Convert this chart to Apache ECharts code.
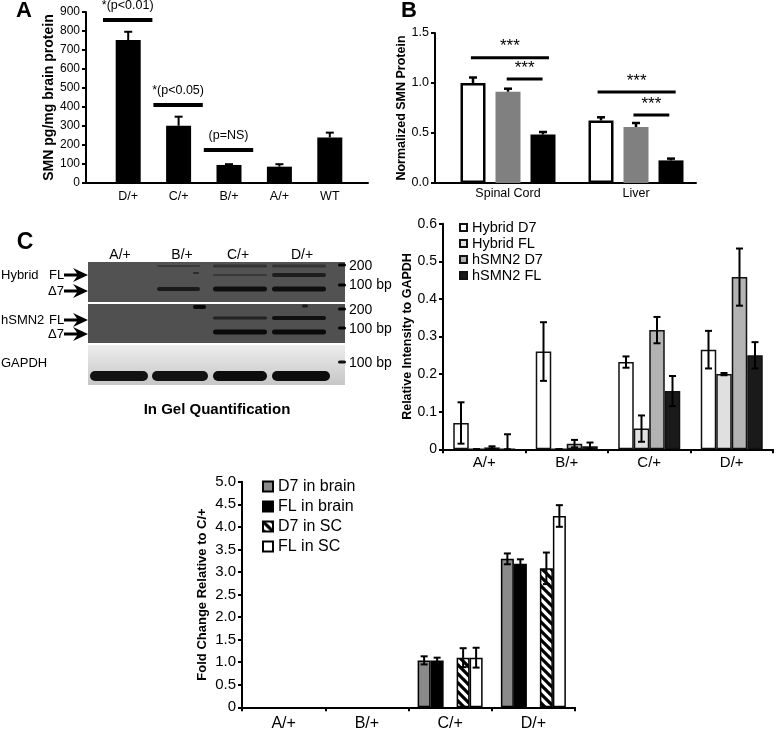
<!DOCTYPE html>
<html>
<head>
<meta charset="utf-8">
<script src="https://cdn.jsdelivr.net/npm/echarts@6/dist/echarts.min.js"></script>
<style>html,body{margin:0;padding:0;background:#fff}#c{width:777px;height:731px}</style>
</head>
<body>
<div id="c"></div>
<script>
// ---------- Panel A ----------
const catsA = ['D/+', 'C/+', 'B/+', 'A/+', 'WT'];
const smnA = [752, 301, 95, 86, 240];
const smnAErr = [44, 48, 4, 13, 25];
const sigALabels = ['*(p<0.01)', '*(p<0.05)', '(p=NS)'];
const sigALevel = [858, 411, 174];

// ---------- Panel B ----------
const catsB = ['Spinal Cord', 'Liver'];
const bWhite = [1.00, 0.625];
const bWhiteErr = [0.055, 0.032];
const bGray = [0.913, 0.56];
const bGrayErr = [0.03, 0.04];
const bBlack = [0.485, 0.226];
const bBlackErr = [0.025, 0.018];
const sigBLabels = ['***', '***', '***', '***'];
const sigBLevel = [1.253, 1.04, 0.91, 0.68];
const sigBFrom = [-0.29, -0.01, 0.70, 0.98];
const sigBTo = [0.32, 0.27, 1.31, 1.26];

// ---------- Panel C (in-gel quantification) ----------
const catsC = ['A/+', 'B/+', 'C/+', 'D/+'];
const hybD7 = [0.07, 0.26, 0.232, 0.265];
const hybD7Err = [0.055, 0.078, 0.015, 0.05];
const hybFL = [0, 0, 0.055, 0.2];
const hybFLErr = [0, 0, 0.035, 0.003];
const smnD7 = [0.005, 0.015, 0.317, 0.458];
const smnD7Err = [0.003, 0.01, 0.035, 0.076];
const smnFL = [0, 0.008, 0.155, 0.25];
const smnFLErr = [0.04, 0.01, 0.04, 0.035];

// ---------- Panel C bottom (fold change) ----------
const catsD = ['A/+', 'B/+', 'C/+', 'D/+'];
const d7Brain = [null, null, 1.04, 3.29];
const d7BrainErr = [null, null, 0.09, 0.12];
const flBrain = [null, null, 1.04, 3.18];
const flBrainErr = [null, null, 0.06, 0.1];
const d7SC = [null, null, 1.10, 3.08];
const d7SCErr = [null, null, 0.21, 0.35];
const flSC = [null, null, 1.10, 4.24];
const flSCErr = [null, null, 0.22, 0.24];

// ---------- Gel labels ----------
const gelLanes = ['A/+', 'B/+', 'C/+', 'D/+'];

const FONT = "'Liberation Sans', Arial, Helvetica, sans-serif";

function hatch() {
  const c = document.createElement('canvas');
  c.width = c.height = 9;
  const g = c.getContext('2d');
  g.fillStyle = '#fff'; g.fillRect(0, 0, 9, 9);
  g.strokeStyle = '#000'; g.lineWidth = 3.2; g.beginPath();
  for (const k of [-9, 0, 9]) { g.moveTo(-1, k - 1); g.lineTo(10, k + 10); }
  g.stroke();
  return c;
}

function errBars(xi, yi, vals, errs, offset, opts) {
  const data = [];
  vals.forEach((v, i) => { if (v != null && errs[i] != null) data.push([i, v, errs[i]]); });
  return {
    type: 'custom', xAxisIndex: xi, yAxisIndex: yi, z: 5, silent: true, data: data,
    encode: { x: 0, y: 1 },
    renderItem: function (params, api) {
      const c = api.value(0), v = api.value(1), e = api.value(2);
      const hi = v + e, lo = opts.upper ? v : Math.max(0, v - e);
      const pt = api.coord([c, hi]), pb = api.coord([c, lo]);
      const x = pt[0] + offset, h = opts.cap / 2;
      const style = { stroke: '#000', lineWidth: opts.lw };
      const ch = [
        { type: 'line', shape: { x1: x, y1: pb[1], x2: x, y2: pt[1] }, style: style },
        { type: 'line', shape: { x1: x - h, y1: pt[1], x2: x + h, y2: pt[1] }, style: style }
      ];
      if (!opts.upper) ch.push({ type: 'line', shape: { x1: x - h, y1: pb[1], x2: x + h, y2: pb[1] }, style: style });
      return { type: 'group', children: ch };
    }
  };
}

function sigLine(xi, yi, x0, x1, y, w) {
  return { type: 'line', xAxisIndex: xi, yAxisIndex: yi, data: [[x0, y], [x1, y]], symbol: 'none',
    lineStyle: { color: '#000', width: w }, silent: true, z: 4 };
}
function sigText(xi, yi, items, fs, dist) {
  return { type: 'scatter', xAxisIndex: xi, yAxisIndex: yi, data: items, symbolSize: 1,
    itemStyle: { color: 'rgba(0,0,0,0)' }, silent: true, z: 6,
    label: { show: true, position: 'top', distance: dist, formatter: '{b}', fontSize: fs, color: '#000',
      opacity: 1, textBorderWidth: 0, fontFamily: FONT } };
}

const axLine = { show: true, onZero: false, lineStyle: { color: '#000', width: 2 } };
const axTick = { show: true, length: 4, lineStyle: { color: '#000', width: 2 } };
const noSplit = { show: false };

function valY(grid, min, max, interval, fs, name, gap, nfs, fmt) {
  return { gridIndex: grid, type: 'value', min: min, max: max, interval: interval,
    axisLine: axLine, axisTick: axTick, splitLine: noSplit,
    axisLabel: { color: '#000', fontSize: fs, margin: 6, fontFamily: FONT, formatter: fmt },
    name: name, nameLocation: 'middle', nameGap: gap, nameRotate: 90,
    nameTextStyle: { color: '#000', fontWeight: 'bold', fontSize: nfs, fontFamily: FONT } };
}
function hidY(grid, min, max) { return { gridIndex: grid, type: 'value', min: min, max: max, show: false, splitLine: noSplit }; }
function lineOnlyX(grid) {
  return { gridIndex: grid, type: 'value', min: 0, max: 1, axisLine: axLine, axisTick: { show: false },
    axisLabel: { show: false }, splitLine: noSplit };
}

const fmt1 = v => v === 0 ? '0' : v.toFixed(1);

// ---------- Gel drawing (photograph stand-in) ----------
const gel = [];
gel.push({ type: 'rect', shape: { x: 88, y: 262, width: 257, height: 40 }, style: { fill: '#525252' } });
gel.push({ type: 'rect', shape: { x: 88, y: 304, width: 257, height: 39 }, style: { fill: '#505050' } });
gel.push({ type: 'rect', shape: { x: 88, y: 345, width: 257, height: 40 },
  style: { fill: new echarts.graphic.LinearGradient(0, 0, 0, 1, [{ offset: 0, color: '#ededed' }, { offset: 1, color: '#c6c6c6' }]) } });
const bands = [
  [157, 200, 266, 2, '#3a3a3a'], [157, 200, 289, 4, '#1a1a1a'], [193, 199, 273, 2, '#2a2a2a'],
  [213, 267, 266, 3, '#343434'], [213, 267, 275, 2, '#383838'], [213, 267, 289, 5, '#0f0f0f'],
  [272, 326, 266, 3, '#343434'], [272, 326, 275, 4, '#1e1e1e'], [272, 326, 289, 5, '#0f0f0f'],
  [338, 346, 265, 3, '#000'], [338, 346, 285, 3, '#000'],
  [193, 206, 307, 4, '#080808'], [302, 308, 306, 3, '#1a1a1a'],
  [213, 267, 318, 3, '#232323'], [213, 267, 332, 5, '#090909'],
  [272, 326, 318, 4, '#101010'], [272, 326, 332, 5, '#090909'],
  [338, 346, 309, 3, '#000'], [338, 346, 328, 3, '#000'],
  [90, 148, 376, 10, '#121212'], [152, 208, 376, 10, '#121212'], [213, 267, 376, 10, '#0c0c0c'], [272, 330, 376, 10, '#0c0c0c'],
  [338, 346, 362, 3, '#111']
];
bands.forEach(b => gel.push({ type: 'rect', shape: { x: b[0], y: b[2] - b[3] / 2, width: b[1] - b[0], height: b[3], r: b[3] / 2 }, style: { fill: b[4] } }));

function txt(t, x, y, fs, align, bold) {
  return { type: 'text', x: x, y: y, style: { text: t, fill: '#000', font: (bold ? 'bold ' : '') + fs + 'px ' + FONT,
    textAlign: align, textVerticalAlign: 'middle', align: align, verticalAlign: 'middle' } };
}
const laneX = [120, 182, 238, 302];
gelLanes.forEach((t, i) => gel.push(txt(t, laneX[i], 255, 14, 'center')));
[['200', 266], ['100 bp', 285], ['200', 310], ['100 bp', 329], ['100 bp', 363]].forEach(a => gel.push(txt(a[0], 349, a[1], 14, 'left')));
[['Hybrid', 1, 275], ['FL', 49, 275], ['\u03947', 48, 291], ['hSMN2', 1, 320], ['FL', 49, 320], ['\u03947', 48, 334], ['GAPDH', 1, 363]]
  .forEach(a => gel.push(txt(a[0], a[1], a[2], 13, 'left')));
[275, 291, 320, 334].forEach(y => gel.push({ type: 'polygon',
  shape: { points: [[64, y - 1.6], [77, y - 1.6], [73, y - 7], [88, y], [73, y + 7], [77, y + 1.6], [64, y + 1.6]] },
  style: { fill: '#000' } }));
gel.push(txt('In Gel Quantification', 217, 410, 15, 'center', true));
gel.push(txt('A', 24, 11, 22, 'center', true));
gel.push(txt('B', 409, 11, 22, 'center', true));
gel.push(txt('C', 25, 243, 23, 'center', true));

const hatchPattern = { image: hatch(), repeat: 'repeat' };

const option = {
  animation: false,
  backgroundColor: '#fff',
  textStyle: { fontFamily: FONT, color: '#000' },
  grid: [
    { left: 86, top: 12, width: 282, height: 171, containLabel: false, outerBoundsMode: 'none' },
    { left: 103, top: 12, width: 252, height: 171, containLabel: false, outerBoundsMode: 'none' },
    { left: 435, top: 33, width: 261, height: 150, containLabel: false, outerBoundsMode: 'none' },
    { left: 444, top: 33, width: 256, height: 150, containLabel: false, outerBoundsMode: 'none' },
    { left: 443, top: 223.7, width: 330, height: 225.6, containLabel: false, outerBoundsMode: 'none' },
    { left: 242, top: 481.7, width: 333, height: 225.6, containLabel: false, outerBoundsMode: 'none' }
  ],
  xAxis: [
    lineOnlyX(0),
    { gridIndex: 1, type: 'category', data: catsA, axisLine: { show: false }, axisTick: { show: false },
      axisLabel: { color: '#000', fontSize: 12.5, margin: 7, fontFamily: FONT } },
    { gridIndex: 1, type: 'value', min: -0.5, max: 4.5, show: false, splitLine: noSplit },
    lineOnlyX(2),
    { gridIndex: 3, type: 'category', data: catsB, axisLine: { show: false }, axisTick: { show: false },
      axisLabel: { color: '#000', fontSize: 12.5, margin: 4, fontFamily: FONT } },
    { gridIndex: 3, type: 'value', min: -0.5, max: 1.5, show: false, splitLine: noSplit },
    { gridIndex: 4, type: 'category', data: catsC, axisLine: axLine, axisTick: axTick,
      axisLabel: { color: '#000', fontSize: 15, margin: 6, fontFamily: FONT } },
    { gridIndex: 5, type: 'category', data: catsD, axisLine: axLine, axisTick: axTick,
      axisLabel: { color: '#000', fontSize: 16, margin: 8, fontFamily: FONT } }
  ],
  yAxis: [
    valY(0, 0, 900, 100, 12, 'SMN pg/mg brain protein', 29, 14),
    hidY(1, 0, 900),
    valY(2, 0, 1.5, 0.5, 12.5, 'Normalized SMN Protein', 19, 12.5, v => v.toFixed(1)),
    hidY(3, 0, 1.5),
    valY(4, 0, 0.6, 0.1, 14, 'Relative Intensity to GAPDH', 27, 12.5, fmt1),
    valY(5, 0, 5, 0.5, 15, 'Fold Change Relative to C/+', 33, 13, fmt1)
  ],
  legend: [
    { data: ['Hybrid D7', 'Hybrid FL', 'hSMN2 D7', 'hSMN2 FL'], orient: 'vertical', left: 459, top: 220,
      itemWidth: 7, itemHeight: 7, itemGap: 1, padding: 0, icon: 'rect', selectedMode: false,
      textStyle: { color: '#000', fontSize: 14.5, lineHeight: 15, fontFamily: FONT } },
    { data: ['D7 in brain', 'FL in brain', 'D7 in SC', 'FL in SC'], orient: 'vertical', left: 262, top: 478,
      itemWidth: 10, itemHeight: 10, itemGap: 3, padding: 0, icon: 'rect', selectedMode: false,
      textStyle: { color: '#000', fontSize: 16, lineHeight: 17, fontFamily: FONT } }
  ],
  series: [
    // Panel A
    { type: 'bar', name: 'SMN level', xAxisIndex: 1, yAxisIndex: 1, data: smnA, barWidth: 25, itemStyle: { color: '#000' } },
    errBars(1, 1, smnA, smnAErr, 0, { upper: true, cap: 8, lw: 2 }),
    ...sigALevel.map((y, i) => sigLine(2, 1, i - 0.5, i + 0.48, y, 4)),
    sigText(2, 1, sigALabels.map((t, i) => ({ name: t, value: [i - 0.01, sigALevel[i]] })), 12.5, 7),
    // Panel B
    { type: 'bar', name: 'B white', xAxisIndex: 4, yAxisIndex: 3, data: bWhite, barWidth: 25, barGap: '40%',
      itemStyle: { color: '#fff', borderColor: '#000', borderWidth: 2.5 } },
    { type: 'bar', name: 'B gray', xAxisIndex: 4, yAxisIndex: 3, data: bGray, barWidth: 25, barGap: '40%',
      itemStyle: { color: '#808080' } },
    { type: 'bar', name: 'B black', xAxisIndex: 4, yAxisIndex: 3, data: bBlack, barWidth: 25, barGap: '40%',
      itemStyle: { color: '#000' } },
    errBars(4, 3, bWhite, bWhiteErr, -35, { upper: true, cap: 8, lw: 2.5 }),
    errBars(4, 3, bGray, bGrayErr, 0, { upper: true, cap: 8, lw: 2.5 }),
    errBars(4, 3, bBlack, bBlackErr, 35, { upper: true, cap: 8, lw: 2.5 }),
    ...sigBLevel.map((y, i) => sigLine(5, 3, sigBFrom[i], sigBTo[i], y, 3)),
    sigText(5, 3, sigBLabels.map((t, i) => ({ name: t, value: [(sigBFrom[i] + sigBTo[i]) / 2, sigBLevel[i]] })), 17, 2),
    // Panel C right
    { type: 'bar', name: 'Hybrid D7', xAxisIndex: 6, yAxisIndex: 4, data: hybD7, barWidth: 15.5, barGap: '0%',
      itemStyle: { color: '#fff', borderColor: '#111', borderWidth: 1.5 } },
    { type: 'bar', name: 'Hybrid FL', xAxisIndex: 6, yAxisIndex: 4, data: hybFL, barWidth: 15.5, barGap: '0%',
      itemStyle: { color: '#e0e0e0', borderColor: '#111', borderWidth: 1.5 } },
    { type: 'bar', name: 'hSMN2 D7', xAxisIndex: 6, yAxisIndex: 4, data: smnD7, barWidth: 15.5, barGap: '0%',
      itemStyle: { color: '#b3b3b3', borderColor: '#111', borderWidth: 1.5 } },
    { type: 'bar', name: 'hSMN2 FL', xAxisIndex: 6, yAxisIndex: 4, data: smnFL, barWidth: 15.5, barGap: '0%',
      itemStyle: { color: '#1a1a1a', borderColor: '#111', borderWidth: 1.5 } },
    errBars(6, 4, hybD7, hybD7Err, -23.25, { cap: 7, lw: 2 }),
    errBars(6, 4, hybFL, hybFLErr, -7.75, { cap: 7, lw: 2 }),
    errBars(6, 4, smnD7, smnD7Err, 7.75, { cap: 7, lw: 2 }),
    errBars(6, 4, smnFL, smnFLErr, 23.25, { cap: 7, lw: 2 }),
    // Panel C bottom
    { type: 'bar', name: 'D7 in brain', xAxisIndex: 7, yAxisIndex: 5, data: d7Brain.map(v => v == null ? '-' : v), barWidth: 13, barGap: '0%',
      itemStyle: { color: '#8a8a8a', borderColor: '#000', borderWidth: 1.5 } },
    { type: 'bar', name: 'FL in brain', xAxisIndex: 7, yAxisIndex: 5, data: flBrain.map(v => v == null ? '-' : v), barWidth: 13, barGap: '0%',
      itemStyle: { color: '#000', borderColor: '#000', borderWidth: 1.5 } },
    { type: 'bar', name: 'spacer', xAxisIndex: 7, yAxisIndex: 5, data: catsD.map(() => '-'), barWidth: 13, barGap: '0%' },
    { type: 'bar', name: 'D7 in SC', xAxisIndex: 7, yAxisIndex: 5, data: d7SC.map(v => v == null ? '-' : v), barWidth: 13, barGap: '0%',
      itemStyle: { color: hatchPattern, borderColor: '#000', borderWidth: 1.5 } },
    { type: 'bar', name: 'FL in SC', xAxisIndex: 7, yAxisIndex: 5, data: flSC.map(v => v == null ? '-' : v), barWidth: 13, barGap: '0%',
      itemStyle: { color: '#fff', borderColor: '#000', borderWidth: 1.5 } },
    errBars(7, 5, d7Brain, d7BrainErr, -26, { cap: 7, lw: 2 }),
    errBars(7, 5, flBrain, flBrainErr, -13, { cap: 7, lw: 2 }),
    errBars(7, 5, d7SC, d7SCErr, 13, { cap: 7, lw: 2 }),
    errBars(7, 5, flSC, flSCErr, 26, { cap: 7, lw: 2 })
  ],
  graphic: gel
};

const chart = echarts.init(document.getElementById('c'), null, { renderer: 'canvas' });
chart.setOption(option);
</script>
</body>
</html>
